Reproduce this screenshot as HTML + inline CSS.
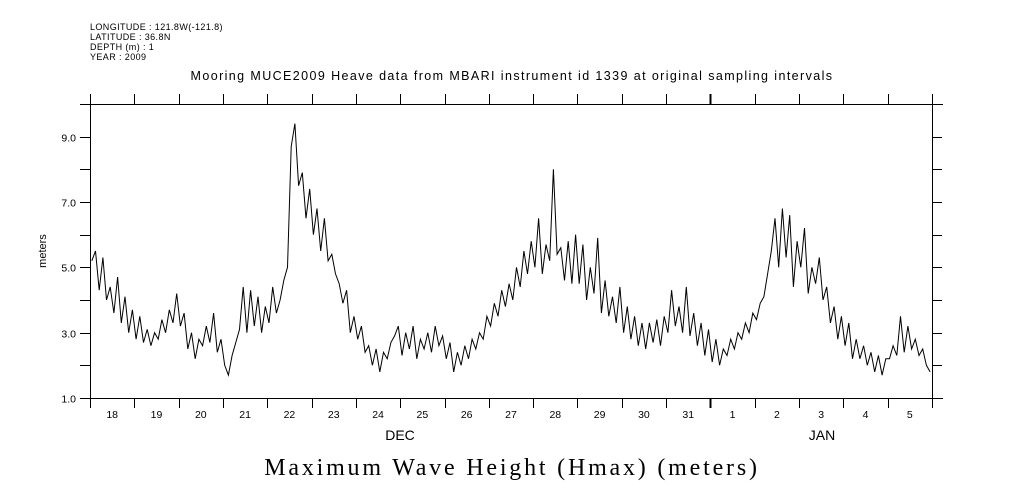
<!DOCTYPE html>
<html><head><meta charset="utf-8">
<style>
html,body{margin:0;padding:0;background:#fff;}
svg{display:block;font-family:"Liberation Sans",sans-serif;}
</style></head>
<body>
<svg id="chart" width="1009" height="504" viewBox="0 0 1009 504">
  <g font-size="9" letter-spacing="0.4" fill="#000">
    <text x="90" y="30">LONGITUDE : 121.8W(-121.8)</text>
    <text x="90" y="40">LATITUDE : 36.8N</text>
    <text x="90" y="50">DEPTH (m) : 1</text>
    <text x="90" y="60">YEAR : 2009</text>
  </g>
  <text x="512" y="80" text-anchor="middle" font-size="12.5" letter-spacing="1.4">Mooring MUCE2009 Heave data from MBARI instrument id 1339 at original sampling intervals</text>
  <g id="axes" stroke="#000" stroke-width="1" fill="none"></g>
  <g id="labels" font-size="10.5" fill="#000"></g>
  <path id="series" stroke="#000" stroke-width="1" fill="none"/>
  <text x="46" y="251" text-anchor="middle" font-size="11" transform="rotate(-90 46 251)">meters</text>
  <text x="400" y="440" text-anchor="middle" font-size="14">DEC</text>
  <text x="822" y="440" text-anchor="middle" font-size="14">JAN</text>
  <text x="512" y="475" text-anchor="middle" font-size="24" letter-spacing="2.8" font-family="'Liberation Serif',serif">Maximum Wave Height (Hmax) (meters)</text>
</svg>
<script>
const dayLabels = ["18","19","20","21","22","23","24","25","26","27","28","29","30","31","1","2","3","4","5"];
const yTicks = [1,2,3,4,5,6,7,8,9,10];
const yTickLabels = ["1.0","","3.0","","5.0","","7.0","","9.0",""];
const samplesPerDay = 12;
const startOffset = 0.04;
const hmax = [
5.2,5.5,4.3,5.3,4.0,4.4,3.6,4.7,3.3,4.1,3.0,3.7,
2.8,3.5,2.7,3.1,2.6,3.0,2.8,3.4,3.0,3.7,3.3,4.2,
3.2,3.6,2.5,3.0,2.2,2.8,2.6,3.2,2.7,3.6,2.4,2.8,
2.0,1.7,2.3,2.7,3.1,4.4,3.0,4.3,3.2,4.1,3.0,3.8,
3.3,4.4,3.6,4.0,4.6,5.0,8.7,9.4,7.5,7.9,6.5,7.4,
6.0,6.8,5.5,6.5,5.2,5.4,4.8,4.5,3.9,4.3,3.0,3.5,
2.8,3.2,2.4,2.6,2.0,2.5,1.8,2.4,2.2,2.7,2.9,3.2,
2.3,3.0,2.5,3.2,2.2,2.8,2.5,3.0,2.4,3.2,2.6,2.9,
2.2,2.7,1.8,2.4,2.0,2.6,2.2,2.8,2.5,3.0,2.8,3.5,
3.2,3.9,3.5,4.3,3.8,4.5,4.0,5.0,4.4,5.5,4.8,5.8,
5.0,6.5,4.8,5.7,5.2,8.0,5.4,5.6,4.6,5.8,4.5,6.0,
4.5,5.7,4.0,5.0,4.2,5.9,3.6,4.6,3.5,4.1,3.3,4.4,
3.0,3.8,2.8,3.5,2.6,3.3,2.5,3.3,2.7,3.4,2.6,3.5,
3.0,4.3,3.2,3.8,3.0,4.4,2.9,3.6,2.6,3.3,2.3,3.1,
2.1,2.8,2.0,2.5,2.3,2.8,2.5,3.0,2.8,3.3,3.0,3.6,
3.4,3.9,4.1,4.8,5.5,6.5,5.0,6.8,5.3,6.6,4.4,5.8,
5.0,6.2,4.2,5.0,4.5,5.3,4.0,4.4,3.3,3.8,2.8,3.5,
2.6,3.3,2.2,2.8,2.2,2.6,2.0,2.4,1.8,2.3,1.7,2.2,
2.2,2.6,2.3,3.5,2.4,3.2,2.5,2.8,2.3,2.5,2.0,1.8
];

const L=90,R=932,T=104,B=398,yMin=1,yMax=10;
const nDays=dayLabels.length;
const xScale=d=>L+d*(R-L)/nDays;
const yScale=v=>B-(v-yMin)*(B-T)/(yMax-yMin);
const NS="http://www.w3.org/2000/svg";
const axes=document.getElementById('axes');
const labels=document.getElementById('labels');
function line(x1,y1,x2,y2,name,w){
  const l=document.createElementNS(NS,'line');
  l.setAttribute('x1',x1);l.setAttribute('y1',y1);l.setAttribute('x2',x2);l.setAttribute('y2',y2);
  if(w) l.setAttribute('stroke-width',w);
  
  
  axes.appendChild(l);
}
line(80,T+0.5,943,T+0.5,'top-axis-line');
line(80,B+0.5,943,B+0.5,'bottom-axis-line');
line(L+0.5,94,L+0.5,408,'left-axis-line');
line(R+0.5,94,R+0.5,408,'right-axis-line');
for(let d=1;d<nDays;d++){
  const x=Math.round(xScale(d))+0.5;
  const w=(dayLabels[d]==="1")?2:1;
  line(x,T-10,x,T,'top-day-tick',w);
  line(x,B,x,B+10,'bottom-day-tick',w);
}
dayLabels.forEach((lab,d)=>{
  const t=document.createElementNS(NS,'text');
  t.setAttribute('x',xScale(d+0.5));t.setAttribute('y',B+20);t.setAttribute('text-anchor','middle');
  t.textContent=lab;
  
  
  labels.appendChild(t);
});
yTicks.forEach((v,i)=>{
  const y=Math.round(yScale(v))+0.5;
  line(L-10,y,L,y,'left-y-tick');
  line(R,y,R+10,y,'right-y-tick');
  if(yTickLabels[i]){
    const t=document.createElementNS(NS,'text');
    t.setAttribute('x',L-14);t.setAttribute('y',y+4);t.setAttribute('text-anchor','end');
    t.textContent=yTickLabels[i];
    
    
    labels.appendChild(t);
  }
});
let d='';
hmax.forEach((v,i)=>{
  const x=xScale(startOffset+i/samplesPerDay).toFixed(1), y=yScale(v).toFixed(1);
  d+=(i?'L':'M')+x+' '+y;
});
document.getElementById('series').setAttribute('d',d);
</script>
</body></html>
